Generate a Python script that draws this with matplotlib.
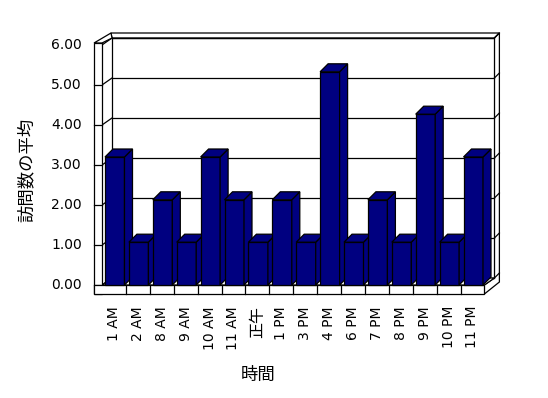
import matplotlib
matplotlib.use("Agg")
import matplotlib.pyplot as plt
from matplotlib.patches import Polygon, Rectangle
import itertools

# ---- data ----
categories = ["1 AM", "2 AM", "8 AM", "9 AM", "10 AM", "11 AM", "正午", "1 PM",
              "3 PM", "4 PM", "6 PM", "7 PM", "8 PM", "9 PM", "10 PM", "11 PM"]
values = [3.20, 1.07, 2.13, 1.07, 3.20, 2.13, 1.07, 2.13,
          1.07, 5.33, 1.07, 2.13, 1.07, 4.27, 1.07, 3.20]
y_ticks = [0, 1, 2, 3, 4, 5, 6]
y_tick_labels = ["0.00", "1.00", "2.00", "3.00", "4.00", "5.00", "6.00"]
x_title = "時間"
y_title = "訪問数の平均"

plt.rcParams['font.family'] = ['DejaVu Sans', 'Noto Sans CJK JP']

W, H, DPI = 548, 398, 100
fig = plt.figure(figsize=(W / DPI, H / DPI), dpi=DPI)
ax = fig.add_axes([0, 0, 1, 1])
ax.axis('off')

# pixel geometry of the front plane (layout)
X0 = 102.0          # px, left of first category on front plane
PITCH = 23.9        # px per category
Y0 = 285.0          # px (from top) of value 0 on front plane
PPU = 40.0          # px per value unit
n = len(categories)
ymax = y_ticks[-1]

ax.set_xlim(-X0 / PITCH, (W - X0) / PITCH)
ax.set_ylim((Y0 - H) / PPU, Y0 / PPU)


def ox(px):
    return px / PITCH


def oy(px):  # px measured downward on screen
    return -px / PPU


NAVY = "#000080"
LW = 0.9
zc = itertools.count(1)


def poly(pts, fc):
    ax.add_patch(Polygon(pts, closed=True, facecolor=fc, edgecolor="black",
                         linewidth=LW, joinstyle="miter", clip_on=False,
                         zorder=next(zc)))


def rect(x, y, w, h, fc):
    ax.add_patch(Rectangle((x, y), w, h, facecolor=fc, edgecolor="black",
                           linewidth=LW, joinstyle="miter", clip_on=False,
                           zorder=next(zc)))


def line(xs, ys):
    ax.plot(xs, ys, color="black", lw=LW, clip_on=False, zorder=next(zc),
            solid_capstyle="projecting")


# wall offsets (px)
WDX, WDY = 10, 7      # front plane -> back wall front face
TDX, TDY = 5, 5       # back wall thickness
SW = 8                # side wall thickness
FT = 9                # floor thickness

xe = n

# back wall slab (top and right side)
poly([(ox(WDX), ymax + oy(-WDY)), (xe + ox(WDX), ymax + oy(-WDY)),
      (xe + ox(WDX + TDX), ymax + oy(-WDY - TDY)),
      (ox(WDX - 1), ymax + oy(-WDY - TDY))], "white")
poly([(xe + ox(WDX), ymax + oy(-WDY)),
      (xe + ox(WDX + TDX), ymax + oy(-WDY - TDY)),
      (xe + ox(WDX + TDX), oy(-WDY - TDY + FT)),
      (xe, oy(FT)), (xe, 0),
      (xe + ox(WDX), oy(-WDY))], "white")
# back wall front face + gridlines
rect(ox(WDX), oy(-WDY), xe, ymax, "white")
for v in y_ticks:
    line([ox(WDX), xe + ox(WDX)], [v + oy(-WDY)] * 2)
    line([xe + ox(WDX), xe + ox(WDX + TDX)], [v + oy(-WDY), v + oy(-WDY - TDY)])

# side wall inner face gridline diagonals
for v in y_ticks:
    line([0, ox(WDX)], [v, v + oy(-WDY)])

# side wall top
poly([(ox(-SW), ymax + oy(-2)), (0, ymax + oy(-2)),
      (ox(WDX), ymax + oy(-WDY)), (ox(WDX - 1), ymax + oy(-WDY - TDY))], "white")

# floor top
poly([(0, 0), (xe, 0), (xe + ox(WDX), oy(-WDY)), (ox(WDX), oy(-WDY))], "white")

# side wall front face with ticks
rect(ox(-SW), oy(FT), ox(SW), ymax + oy(-2) - oy(FT), "white")
for v in y_ticks[:-1]:
    line([ox(-SW), 0], [v, v])

# floor front face with category ticks
rect(ox(-SW), oy(FT), xe + ox(SW), -oy(FT), "white")
for k in range(1, n):
    line([k, k], [0, oy(FT)])

# bars
BOFF, BW, BD = 3.0, 19.5, 8.0
for k, v in enumerate(values):
    xl = k + ox(BOFF)
    xr = xl + ox(BW)
    bdx, bdy = ox(BD), oy(-BD)
    rect(xl, 0, ox(BW), v, NAVY)
    poly([(xr, 0), (xr + bdx, bdy), (xr + bdx, v + bdy), (xr, v)], NAVY)
    poly([(xl, v), (xr, v), (xr + bdx, v + bdy), (xl + bdx, v + bdy)], NAVY)

# tick labels
for v, lab in zip(y_ticks, y_tick_labels):
    ax.text(ox(-SW - 12), v, lab, ha="right", va="center", fontsize=10)
for k, lab in enumerate(categories):
    fs = 10 if lab.isascii() else 11.5
    ax.text(k + 0.5, oy(21), lab, rotation=90, ha="center", va="top", fontsize=fs)

# axis titles
ax.text(ox(258 - X0), (Y0 - 375) / PPU, x_title, ha="center", va="center",
        fontsize=12.5, family=['Noto Sans CJK JP'])
ax.text(ox(26.5 - X0), (Y0 - 170) / PPU, y_title, ha="center", va="center",
        rotation=90, fontsize=12.5, family=['Noto Sans CJK JP'])

fig.savefig("out.png", dpi=DPI)
